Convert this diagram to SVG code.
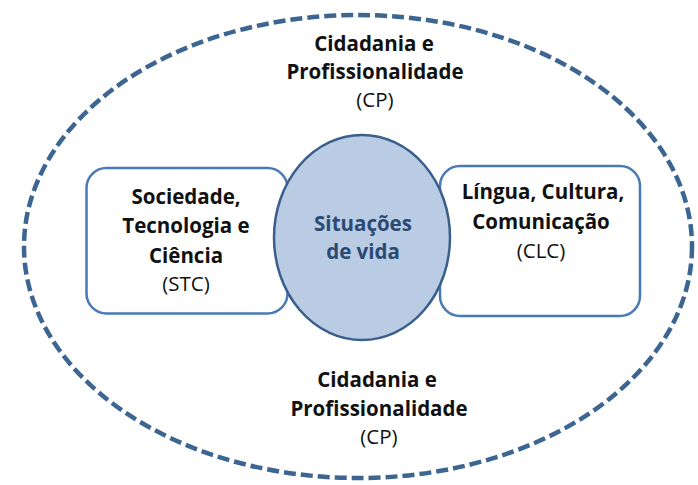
<svg xmlns="http://www.w3.org/2000/svg" width="698" height="485" viewBox="0 0 698 485">
<style>
.t{font-family:"Open Sans","Liberation Sans",sans-serif;font-size:20.5px;fill:#111;text-anchor:middle}
.b{font-weight:bold}
.c{fill:#2b4a73}
.box{fill:#ffffff;stroke:#4a7ab5;stroke-width:2.5}
</style>
<rect width="698" height="485" fill="#ffffff"/>
<g id="outer">
<ellipse cx="358" cy="246.5" rx="334" ry="231.5" fill="none" stroke="#3c6592" stroke-width="4.5" stroke-dasharray="12 5"/>
<text class="t b" x="374" y="51">Cidadania e</text>
<text class="t b" x="375" y="79">Profissionalidade</text>
<text class="t" x="375" y="107">(CP)</text>
<text class="t b" x="377" y="387">Cidadania e</text>
<text class="t b" x="379" y="416">Profissionalidade</text>
<text class="t" x="379" y="444">(CP)</text>
</g>
<g id="stc">
<rect class="box" x="86.5" y="168" width="201" height="145.5" rx="20"/>
<text class="t b" x="186" y="204">Sociedade,</text>
<text class="t b" x="186" y="233">Tecnologia e</text>
<text class="t b" x="186" y="263">Ciência</text>
<text class="t" x="186" y="291">(STC)</text>
</g>
<g id="clc">
<rect class="box" x="440" y="166" width="200" height="150" rx="20"/>
<text class="t b" x="543" y="199">Língua, Cultura,</text>
<text class="t b" x="541" y="229">Comunicação</text>
<text class="t" x="541" y="258">(CLC)</text>
</g>
<g id="center">
<ellipse cx="362" cy="237.5" rx="88" ry="102.5" fill="#b9cce4" stroke="#3b5f8c" stroke-width="2.5"/>
<text class="t b c" x="363" y="231">Situações</text>
<text class="t b c" x="363" y="259">de vida</text>
</g>
<g id="connectors"></g>
</svg>
